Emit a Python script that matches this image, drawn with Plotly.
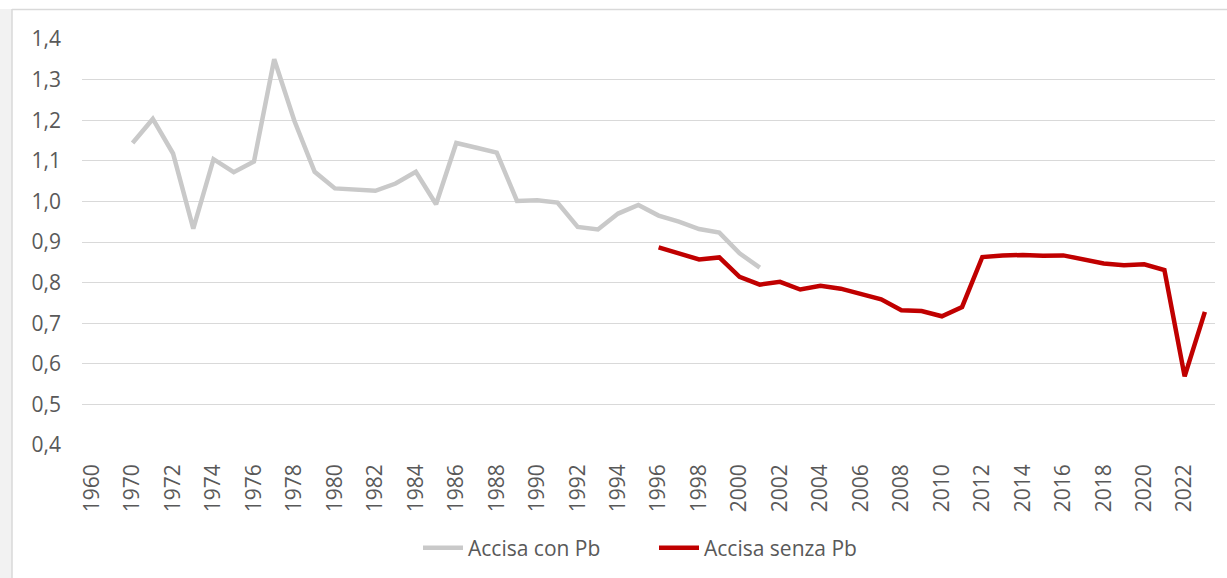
import plotly.graph_objects as go

# Categories (x axis): the second slot is an unlabelled gap category
years = ["1960", "1965"] + [str(y) for y in range(1970, 2024)]
tick_labels = years[::2]

con_pb_years = [str(y) for y in range(1970, 2002)]
con_pb = [1.144, 1.203, 1.118, 0.933, 1.104, 1.072, 1.098, 1.350, 1.198, 1.073,
          1.032, 1.030, 1.026, 1.044, 1.073, 0.993, 1.144, 1.132, 1.120, 1.001,
          1.003, 0.997, 0.937, 0.931, 0.970, 0.991, 0.965, 0.950, 0.932, 0.923,
          0.872, 0.837]

senza_pb_years = [str(y) for y in range(1996, 2024)]
senza_pb = [0.887, 0.872, 0.857, 0.862, 0.814, 0.795, 0.802, 0.783, 0.792, 0.785,
            0.771, 0.759, 0.732, 0.730, 0.717, 0.740, 0.863, 0.867, 0.868, 0.866,
            0.867, 0.857, 0.847, 0.843, 0.845, 0.831, 0.569, 0.728]

W, H = 1227, 578
L, R, T, B = 82, 12, 39, 133
pw, ph = W - L - R, H - T - B

def px(x):
    return (x - L) / pw

def py(y):
    return (H - B - y) / ph

font = "Open Sans, Liberation Sans, sans-serif"
tick_color = "#595959"
fs = 21

fig = go.Figure()
fig.add_trace(go.Scatter(x=con_pb_years, y=con_pb, mode="lines", name="Accisa con Pb",
                         line=dict(color="#c9c9c9", width=4.5)))
fig.add_trace(go.Scatter(x=senza_pb_years, y=senza_pb, mode="lines", name="Accisa senza Pb",
                         line=dict(color="#c00000", width=4.5)))

fig.update_layout(
    width=W, height=H,
    margin=dict(l=L, r=R, t=T, b=B, autoexpand=False),
    paper_bgcolor="white", plot_bgcolor="white",
    font=dict(family=font, size=fs, color=tick_color),
    showlegend=True,
    legend=dict(orientation="h", x=px(418), xanchor="left", y=py(548), yanchor="middle",
                font=dict(size=fs, color=tick_color), itemwidth=40,
                entrywidth=181, entrywidthmode="pixels",
                bgcolor="rgba(0,0,0,0)", tracegroupgap=0),
    xaxis=dict(type="category", categoryorder="array", categoryarray=years,
               range=[-0.5, len(years) - 0.5],
               tickmode="array", tickvals=tick_labels, ticktext=tick_labels,
               tickangle=-90, showgrid=False, zeroline=False, showline=False,
               ticks="", ticklabelstandoff=14,
               tickfont=dict(size=fs, color=tick_color)),
    yaxis=dict(range=[0.4, 1.4], dtick=0.1, tick0=0.4, tickformat=".1f",
               showgrid=True, gridcolor="#d9d9d9", gridwidth=1.3,
               zeroline=False, showline=False, ticks="", ticklabelstandoff=20,
               tickfont=dict(size=fs, color=tick_color)),
    separators=",.",
    shapes=[
        dict(type="rect", xref="paper", yref="paper", x0=px(0), x1=px(12), y0=py(H), y1=py(9),
             fillcolor="#f2f2f2", line=dict(width=0), layer="below"),
        dict(type="line", xref="paper", yref="paper", x0=px(12), x1=px(12), y0=py(H), y1=py(9),
             line=dict(color="#d9d9d9", width=1.5)),
        dict(type="line", xref="paper", yref="paper", x0=px(12), x1=px(W), y0=py(9.5), y1=py(9.5),
             line=dict(color="#d9d9d9", width=1.5)),
    ],
)

fig.write_html("out.html", config={"displayModeBar": False},
               post_script="document.body.style.margin='0';document.body.style.padding='0';")
